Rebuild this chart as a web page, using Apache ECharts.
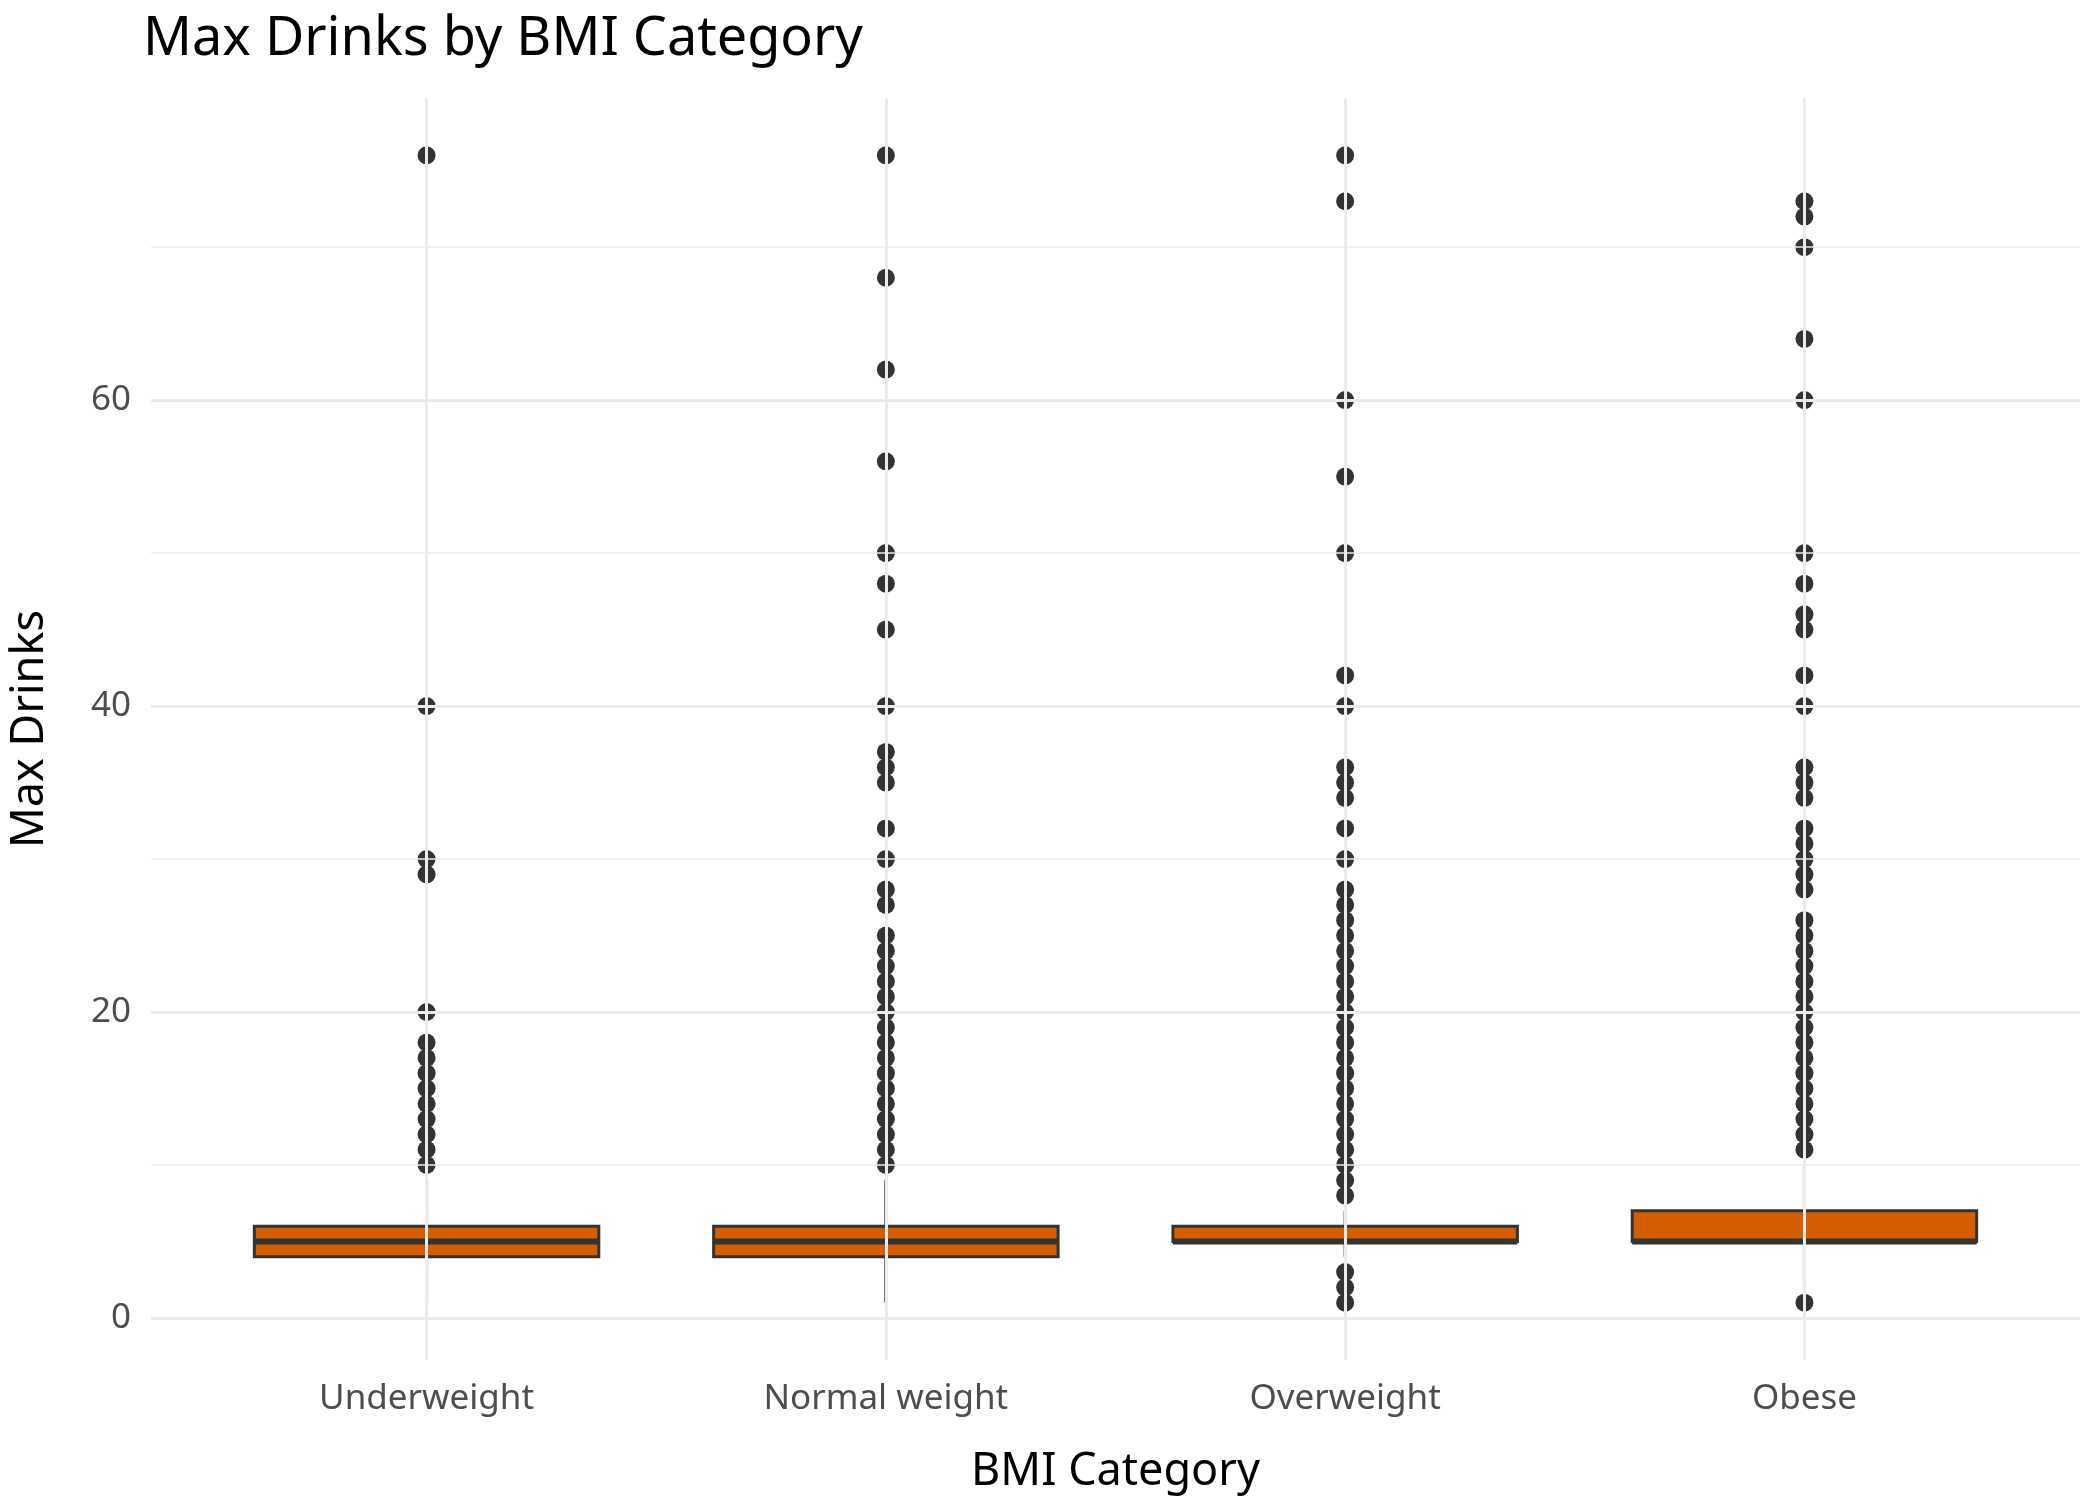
<!DOCTYPE html>
<html><head><meta charset="utf-8">
<script src="https://cdn.jsdelivr.net/npm/echarts@6/dist/echarts.min.js"></script>
<style>html,body{margin:0;background:#fff}#c{width:2100px;height:1500px}</style>
</head><body><div id="c"></div>
<script>
const categories = ['Underweight', 'Normal weight', 'Overweight', 'Obese'];
// [min whisker, Q1, median, Q3, max whisker]
const boxStats = [
  [1, 4, 5, 6, 9],
  [1, 4, 5, 6, 9],
  [4, 5, 5, 6, 7],
  [2, 5, 5, 7, 10]
];
const outliers = [
  [76, 40, 30, 29, 20, 18, 17, 16, 15, 14, 13, 12, 11, 10],
  [76, 68, 62, 56, 50, 48, 45, 40, 37, 36, 35, 32, 30, 28, 27, 25, 24, 23, 22, 21, 20, 19, 18, 17, 16, 15, 14, 13, 12, 11, 10],
  [76, 73, 60, 55, 50, 42, 40, 36, 35, 34, 32, 30, 28, 27, 26, 25, 24, 23, 22, 21, 20, 19, 18, 17, 16, 15, 14, 13, 12, 11, 10, 9, 8, 3, 2, 1],
  [73, 72, 70, 64, 60, 50, 48, 46, 45, 42, 40, 36, 35, 34, 32, 31, 30, 29, 28, 26, 25, 24, 23, 22, 21, 20, 19, 18, 17, 16, 15, 14, 13, 12, 11, 1]
];
const yTicks = [0, 20, 40, 60];

const font = 'Noto Sans';
const chart = echarts.init(document.getElementById('c'));
const outlierData = [];
outliers.forEach((vals, i) => vals.forEach(v => outlierData.push([i, v])));
const halfBox = 0.375;

chart.setOption({
  backgroundColor: '#fff',
  animation: false,
  title: { text: 'Max Drinks by BMI Category', left: 138, top: 8,
    textStyle: { fontFamily: font, fontSize: 54, fontWeight: 'normal', color: '#000' } },
  grid: { left: 144, right: 20, top: 98, bottom: 134 },
  xAxis: {
    type: 'value', min: -0.6, max: 3.6,
    name: 'BMI Category', nameLocation: 'middle', nameGap: 90,
    nameTextStyle: { fontFamily: font, fontSize: 45, color: '#000' },
    axisLine: { show: false }, axisTick: { show: false },
    axisLabel: { fontFamily: font, fontSize: 35, color: '#4d4d4d', margin: 22,
      customValues: [0, 1, 2, 3], formatter: v => categories[Math.round(v)] },
    splitLine: { show: false }
  },
  yAxis: {
    type: 'value', min: -2.75, max: 79.75,
    name: 'Max Drinks', nameLocation: 'middle', nameGap: 98,
    nameTextStyle: { fontFamily: font, fontSize: 45, color: '#000' },
    axisLine: { show: false }, axisTick: { show: false },
    axisLabel: { fontFamily: font, fontSize: 35, color: '#4d4d4d', margin: 20,
      customValues: yTicks },
    splitLine: { show: false }
  },
  series: [
    {
      type: 'line', data: [], z: 1,
      markLine: {
        silent: true, symbol: 'none', label: { show: false }, animation: false,
        data: [0, 10, 20, 30, 40, 50, 60, 70].map(v => ({
          yAxis: v,
          lineStyle: { color: '#ebebeb', type: 'solid', width: v % 20 === 0 ? 3 : 1.6 }
        })).concat([0, 1, 2, 3].map(v => ({
          xAxis: v, lineStyle: { color: '#ebebeb', type: 'solid', width: 3 }
        })))
      }
    },
    {
      type: 'custom', z: 3,
      renderItem: (params, api) => {
        const x = api.value(0);
        const p = k => api.coord([x, api.value(k)]);
        const lo = p(1), q1 = p(2), med = p(3), q3 = p(4), hi = p(5);
        const xl = api.coord([x - halfBox, 0])[0], xr = api.coord([x + halfBox, 0])[0];
        return { type: 'group', children: [
          { type: 'line', shape: { x1: lo[0], y1: lo[1], x2: q1[0], y2: q1[1] }, style: { stroke: '#333', lineWidth: 3 } },
          { type: 'line', shape: { x1: q3[0], y1: q3[1], x2: hi[0], y2: hi[1] }, style: { stroke: '#333', lineWidth: 3 } },
          { type: 'rect', shape: { x: xl, y: q3[1], width: xr - xl, height: q1[1] - q3[1] },
            style: { fill: '#D55E00', stroke: '#333', lineWidth: 3 } },
          { type: 'line', shape: { x1: xl, y1: med[1], x2: xr, y2: med[1] }, style: { stroke: '#333', lineWidth: 6 } }
        ] };
      },
      data: boxStats.map((b, i) => [i].concat(b))
    },
    {
      type: 'scatter', data: outlierData, symbolSize: 18,
      itemStyle: { color: '#333333', opacity: 1 }, z: 4
    }
  ]
});
</script></body></html>
